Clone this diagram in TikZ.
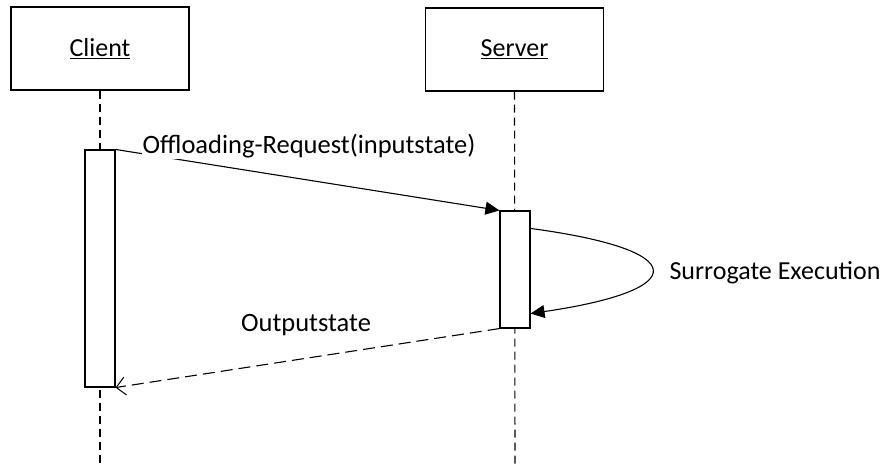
\documentclass[tikz,border=0pt]{standalone}
\usepackage{fontspec}
\setmainfont{Carlito}
\usetikzlibrary{arrows.meta}
\begin{document}
\begin{tikzpicture}[x=1pt,y=-1pt,line width=1.1pt,
  objbox/.style={draw,minimum width=178pt,minimum height=83pt,inner sep=0pt,font=\fontsize{26}{30}\selectfont},
  actbox/.style={draw,fill=white,minimum width=30pt,inner sep=0pt},
  lifeline/.style={dash pattern=on 8pt off 5pt},
  msg/.style={-{Triangle[length=14pt,width=13pt]}},
  reply/.style={dash pattern=on 12pt off 6pt,-{Straight Barb[length=9pt,width=18pt,line width=1pt]}},
  lbl/.style={font=\fontsize{26.5}{30}\selectfont,inner sep=1pt}]
\useasboundingbox (0,0) rectangle (887,464);
% participants
\node[objbox] (client) at (100,48.5) {\underline{Client}};
\node[objbox] (server) at (514.5,49.5) {\underline{Server}};
% lifelines
\coordinate (cend) at (100,464);
\coordinate (send) at (515,464);
\draw[lifeline] (client.south) -- (cend);
\draw[lifeline] (server.south) -- (send);
% activations
\node[actbox,minimum height=237pt] (cact) at (100,268.5) {};
\node[actbox,minimum height=117pt] (sact) at (515,269.5) {};
% request message
\draw[msg] (cact.north east) -- (sact.north west);
\node[lbl,fill=white,anchor=base west] (req) at (141,153) {Offloading-Request(inputstate)};
% self call
\coordinate (sa) at ([yshift=-18pt]sact.north east);
\coordinate (sb) at ([yshift=15pt]sact.south east);
\draw[msg] (sa) .. controls (692,250) and (692,290) .. (sb);
\node[lbl,anchor=base west,font=\fontsize{26}{30}\selectfont] (surr) at (668,279) {Surrogate Execution};
% reply message
\draw[reply] (sact.south west) -- (cact.south east);
\node[lbl,anchor=base] (out) at (306,331) {Outputstate};
\end{tikzpicture}
\end{document}
